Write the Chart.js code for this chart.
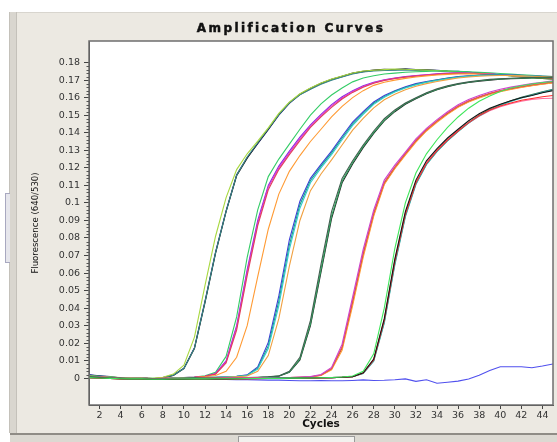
<!DOCTYPE html>
<html>
<head>
<meta charset="utf-8">
<script src="https://cdn.jsdelivr.net/npm/chart.js@4.4.1/dist/chart.umd.min.js"></script>
<style>
  html,body{margin:0;padding:0;background:#ffffff;}
  #wrap{position:relative;width:557px;height:442px;overflow:hidden;background:#ffffff;}
  #panel{position:absolute;left:10px;top:12px;width:547px;height:421px;background:#ece9e2;border-top:1px solid #d8d5ce;}
  #lstrip{position:absolute;left:9px;top:12px;width:6px;height:421px;background:#d9d6cf;border-left:1px solid #c4c1ba;border-right:1px solid #c4c1ba;}
  #ltab{position:absolute;left:5px;top:193px;width:4px;height:68px;background:#e6e6ec;border:1px solid #a8a8c0;border-right:none;}
  #bbar{position:absolute;left:10px;top:433px;width:547px;height:9px;background:#dcd9d2;border-top:2px solid #8f8c86;}
  #thumb{position:absolute;left:238px;top:436px;width:115px;height:6px;background:#f2f1ee;border:1px solid #9a9a9a;border-bottom:none;}
  #cv{position:absolute;left:0;top:0;}
</style>
</head>
<body>
<div id="wrap">
  <div id="panel"></div>
  <div id="lstrip"></div>
  <div id="ltab"></div>
  <div id="bbar"></div>
  <div id="thumb"></div>
  <canvas id="cv" width="557" height="442"></canvas>
</div>
<script>
// ---------- data ----------
const chartTitle = "Amplification Curves";
const xTitle = "Cycles";
const yTitle = "Fluorescence (640/530)";
const cycles = [1,2,3,4,5,6,7,8,9,10,11,12,13,14,15,16,17,18,19,20,21,22,23,24,25,26,27,28,29,30,31,32,33,34,35,36,37,38,39,40,41,42,43,44,45];
const xTicks = [2,4,6,8,10,12,14,16,18,20,22,24,26,28,30,32,34,36,38,40,42,44];
const yTicks = [0,0.01,0.02,0.03,0.04,0.05,0.06,0.07,0.08,0.09,0.1,0.11,0.12,0.13,0.14,0.15,0.16,0.17,0.18];

// group 1 (earliest)
const g1Navy   = [.0020,.0015,.0010,.0002,.0005,.0001,-.0003,.0004,.0019,.0058,.0175,.0440,.0720,.0955,.1160,.1258,.1338,.1418,.1500,.1568,.1618,.1650,.1680,.1702,.1720,.1738,.1748,.1755,.1758,.1760,.1765,.1760,.1759,.1756,.1752,.1750,.1745,.1741,.1736,.1731,.1726,.1721,.1716,.1712,.1708];
const g1Black  = [.0016,.0012,.0006,.0000,.0003,.0000,-.0004,.0002,.0016,.0055,.0170,.0432,.0712,.0950,.1155,.1255,.1340,.1420,.1505,.1572,.1620,.1653,.1682,.1705,.1722,.1740,.1750,.1757,.1762,.1760,.1762,.1758,.1757,.1754,.1750,.1748,.1744,.1740,.1735,.1730,.1725,.1720,.1716,.1710,.1705];
const g1YGreen = [.0014,.0010,.0008,.0004,.0002,.0001,.0000,.0006,.0024,.0075,.0235,.0530,.0810,.1030,.1190,.1280,.1352,.1428,.1510,.1575,.1622,.1655,.1684,.1706,.1724,.1741,.1752,.1756,.1760,.1763,.1762,.1759,.1757,.1755,.1751,.1747,.1743,.1739,.1734,.1729,.1724,.1719,.1714,.1710,.1706];
const g1Teal   = [.0018,.0013,.0009,.0003,.0004,.0002,-.0002,.0003,.0018,.0056,.0172,.0436,.0716,.0952,.1158,.1262,.1343,.1423,.1503,.1570,.1616,.1648,.1677,.1700,.1718,.1735,.1746,.1752,.1755,.1757,.1758,.1757,.1755,.1753,.1750,.1747,.1743,.1739,.1734,.1729,.1725,.1720,.1716,.1711,.1707];

// group 2
const g2Green   = [.0012,.0009,.0006,.0002,.0001,.0003,.0000,-.0002,.0002,.0004,.0008,.0014,.0035,.0125,.0350,.0690,.0960,.1150,.1250,.1335,.1420,.1500,.1565,.1615,.1655,.1690,.1712,.1725,.1735,.1740,.1745,.1748,.1750,.1752,.1752,.1750,.1748,.1745,.1742,.1738,.1734,.1730,.1727,.1723,.1720];
const g2Purple  = [.0010,.0008,.0005,.0001,.0000,.0002,-.0001,-.0001,.0001,.0003,.0006,.0012,.0028,.0100,.0300,.0620,.0900,.1100,.1210,.1295,.1375,.1445,.1505,.1560,.1605,.1640,.1668,.1688,.1702,.1712,.1720,.1726,.1731,.1736,.1740,.1741,.1740,.1738,.1735,.1732,.1728,.1725,.1721,.1718,.1714];
const g2Magenta = [.0011,.0008,.0004,.0000,.0001,.0002,-.0002,.0000,.0002,.0004,.0007,.0012,.0026,.0095,.0290,.0605,.0885,.1090,.1200,.1285,.1365,.1438,.1498,.1553,.1598,.1635,.1664,.1685,.1700,.1710,.1718,.1724,.1730,.1734,.1738,.1740,.1739,.1737,.1734,.1731,.1727,.1724,.1720,.1716,.1712];
const g2Red     = [.0009,.0007,.0004,.0001,.0000,.0001,-.0002,-.0001,.0001,.0003,.0006,.0011,.0024,.0088,.0275,.0585,.0870,.1075,.1190,.1275,.1355,.1430,.1490,.1545,.1592,.1630,.1660,.1682,.1698,.1709,.1717,.1723,.1728,.1733,.1737,.1739,.1738,.1736,.1733,.1730,.1726,.1723,.1719,.1715,.1711];
const g2Orange  = [.0010,.0007,.0005,.0001,.0001,.0002,-.0001,.0000,.0001,.0003,.0005,.0009,.0016,.0040,.0120,.0300,.0580,.0850,.1050,.1180,.1270,.1350,.1420,.1490,.1550,.1600,.1640,.1670,.1688,.1700,.1710,.1718,.1724,.1729,.1733,.1735,.1736,.1735,.1733,.1730,.1727,.1723,.1720,.1716,.1712];

// group 3
const g3Blue   = [.0008,.0006,.0003,.0000,-.0001,.0001,-.0002,-.0003,.0000,.0002,.0003,.0004,.0006,.0009,.0012,.0020,.0065,.0205,.0470,.0790,.1010,.1140,.1220,.1295,.1380,.1460,.1520,.1575,.1612,.1640,.1662,.1680,.1692,.1702,.1712,.1720,.1725,.1728,.1730,.1730,.1729,.1727,.1725,.1722,.1720];
const g3Teal   = [.0009,.0006,.0002,-.0001,.0000,.0001,-.0003,-.0002,.0001,.0002,.0004,.0005,.0006,.0008,.0011,.0018,.0058,.0185,.0440,.0760,.0990,.1128,.1210,.1285,.1370,.1450,.1512,.1568,.1606,.1636,.1658,.1676,.1689,.1700,.1710,.1718,.1723,.1727,.1729,.1729,.1728,.1726,.1724,.1721,.1719];
const g3Cyan   = [.0007,.0005,.0003,.0001,.0000,.0000,-.0002,-.0002,.0000,.0001,.0003,.0004,.0005,.0007,.0010,.0016,.0052,.0170,.0415,.0735,.0970,.1115,.1200,.1275,.1360,.1442,.1505,.1562,.1602,.1632,.1655,.1673,.1687,.1698,.1708,.1716,.1722,.1726,.1728,.1728,.1727,.1725,.1723,.1720,.1718];
const g3Orange = [.0008,.0005,.0002,.0000,.0000,.0001,-.0002,-.0002,.0000,.0001,.0002,.0003,.0004,.0006,.0009,.0013,.0040,.0130,.0340,.0640,.0900,.1070,.1165,.1245,.1330,.1415,.1482,.1542,.1588,.1620,.1645,.1665,.1680,.1692,.1703,.1712,.1718,.1722,.1725,.1726,.1726,.1724,.1722,.1720,.1718];

// group 4
const g4Slate = [.0006,.0004,.0002,.0000,-.0002,-.0001,-.0003,-.0004,-.0002,.0000,.0001,.0002,.0001,.0002,.0003,.0004,.0006,.0009,.0014,.0040,.0120,.0330,.0650,.0950,.1140,.1240,.1330,.1410,.1480,.1530,.1570,.1600,.1628,.1650,.1668,.1680,.1690,.1698,.1704,.1708,.1711,.1713,.1715,.1716,.1717];
const g4Green = [.0005,.0004,.0001,-.0001,-.0002,-.0002,-.0003,-.0003,-.0001,.0000,.0002,.0002,.0002,.0002,.0003,.0004,.0005,.0008,.0013,.0036,.0110,.0310,.0620,.0925,.1125,.1230,.1322,.1402,.1472,.1525,.1566,.1597,.1625,.1647,.1665,.1678,.1688,.1696,.1702,.1706,.1709,.1711,.1713,.1714,.1715];
const g4Black = [.0007,.0005,.0002,.0000,-.0001,-.0001,-.0004,-.0004,-.0002,-.0001,.0000,.0001,.0001,.0002,.0003,.0003,.0005,.0008,.0012,.0034,.0105,.0300,.0605,.0910,.1115,.1222,.1315,.1396,.1468,.1520,.1562,.1594,.1622,.1645,.1663,.1676,.1686,.1694,.1700,.1705,.1708,.1710,.1712,.1713,.1714];

// group 5
const g5Magenta = [.0005,.0003,.0001,-.0001,-.0001,-.0002,-.0003,-.0003,-.0002,-.0002,-.0001,.0000,.0000,.0001,.0001,.0002,.0002,.0003,.0004,.0005,.0007,.0010,.0022,.0062,.0195,.0465,.0735,.0960,.1130,.1215,.1290,.1365,.1425,.1475,.1520,.1560,.1590,.1612,.1632,.1648,.1660,.1670,.1680,.1688,.1696];
const g5Red     = [.0004,.0002,.0000,-.0002,-.0002,-.0003,-.0004,-.0004,-.0003,-.0003,-.0002,-.0001,-.0001,.0000,.0000,.0001,.0001,.0002,.0003,.0004,.0006,.0009,.0019,.0056,.0180,.0445,.0715,.0945,.1118,.1205,.1282,.1356,.1418,.1468,.1513,.1552,.1582,.1605,.1625,.1640,.1653,.1664,.1674,.1682,.1690];
const g5Orange  = [.0004,.0003,.0001,-.0001,-.0002,-.0003,-.0003,-.0004,-.0003,-.0002,-.0001,.0000,.0000,.0001,.0001,.0002,.0002,.0003,.0004,.0005,.0006,.0008,.0016,.0048,.0160,.0415,.0690,.0925,.1105,.1195,.1272,.1346,.1410,.1460,.1505,.1545,.1575,.1598,.1618,.1634,.1647,.1658,.1668,.1676,.1684];
const g5Brown   = [.0003,.0002,.0000,-.0002,-.0003,-.0003,-.0004,-.0005,-.0004,-.0003,-.0002,-.0002,-.0001,.0000,.0000,.0001,.0001,.0002,.0002,.0003,.0005,.0008,.0018,.0052,.0172,.0432,.0705,.0935,.1110,.1200,.1278,.1352,.1414,.1465,.1510,.1548,.1578,.1602,.1622,.1638,.1650,.1661,.1670,.1678,.1686];

// group 6 (latest)
const g6Green   = [.0004,.0002,.0000,-.0002,-.0003,-.0003,-.0005,-.0005,-.0004,-.0004,-.0003,-.0003,-.0002,-.0002,-.0002,-.0001,-.0001,.0000,.0000,.0001,.0001,.0002,.0003,.0005,.0008,.0013,.0040,.0140,.0400,.0740,.1000,.1170,.1280,.1360,.1430,.1490,.1540,.1580,.1610,.1635,.1655,.1668,.1678,.1686,.1692];
const g6Black   = [.0005,.0003,.0000,-.0002,-.0004,-.0004,-.0006,-.0006,-.0005,-.0005,-.0004,-.0004,-.0003,-.0003,-.0002,-.0002,-.0001,-.0001,.0000,.0000,.0001,.0002,.0003,.0004,.0006,.0010,.0032,.0110,.0340,.0680,.0950,.1130,.1240,.1310,.1370,.1420,.1468,.1508,.1540,.1562,.1582,.1600,.1612,.1628,.1640];
const g6Red     = [.0003,.0001,-.0001,-.0003,-.0004,-.0005,-.0006,-.0007,-.0006,-.0005,-.0005,-.0004,-.0004,-.0003,-.0003,-.0002,-.0002,-.0001,-.0001,.0000,.0000,.0001,.0002,.0004,.0006,.0009,.0030,.0105,.0330,.0665,.0935,.1115,.1225,.1298,.1358,.1410,.1458,.1498,.1530,.1552,.1570,.1585,.1595,.1605,.1612];
const g6Teal    = [.0004,.0002,.0000,-.0002,-.0003,-.0004,-.0005,-.0006,-.0005,-.0004,-.0004,-.0003,-.0003,-.0002,-.0002,-.0001,-.0001,.0000,.0000,.0001,.0001,.0002,.0003,.0004,.0006,.0009,.0028,.0098,.0315,.0645,.0920,.1105,.1218,.1292,.1354,.1406,.1455,.1496,.1530,.1556,.1578,.1598,.1614,.1630,.1645];
const g6Pink    = [.0003,.0002,.0000,-.0002,-.0004,-.0004,-.0005,-.0006,-.0006,-.0005,-.0004,-.0004,-.0003,-.0003,-.0002,-.0002,-.0001,-.0001,.0000,.0000,.0001,.0001,.0002,.0004,.0006,.0010,.0031,.0108,.0335,.0672,.0942,.1120,.1232,.1302,.1362,.1412,.1456,.1494,.1525,.1548,.1565,.1580,.1590,.1595,.1597];
const g6DkGreen = [.0005,.0003,.0001,-.0002,-.0003,-.0004,-.0005,-.0005,-.0005,-.0004,-.0004,-.0003,-.0003,-.0002,-.0002,-.0001,-.0001,.0000,.0000,.0000,.0001,.0002,.0003,.0004,.0006,.0009,.0029,.0102,.0322,.0655,.0928,.1110,.1222,.1295,.1356,.1408,.1458,.1500,.1535,.1560,.1582,.1602,.1618,.1634,.1648];

// negative control
const negBlue = [.0020,.0012,.0006,.0002,.0000,-.0002,-.0004,-.0002,-.0003,-.0004,-.0005,-.0006,-.0006,-.0007,-.0008,-.0008,-.0009,-.0010,-.0010,-.0012,-.0014,-.0014,-.0013,-.0014,-.0014,-.0012,-.0009,-.0012,-.0011,-.0008,-.0003,-.0017,-.0008,-.0028,-.0022,-.0016,-.0004,.0018,.0045,.0066,.0066,.0066,.0060,.0070,.0082];

const seriesList = [
  ["g6 green", g6Green, "#3ee65a"], ["g6 black", g6Black, "#151515"], ["g6 red", g6Red, "#ff2a2a"],
  ["g6 teal", g6Teal, "#2fb0b0"], ["g6 pink", g6Pink, "#ff6fa0"], ["g6 dark green", g6DkGreen, "#2f6b4f"],
  ["g5 magenta", g5Magenta, "#cc44cc"], ["g5 red", g5Red, "#e85050"], ["g5 orange", g5Orange, "#ff9a33"], ["g5 brown", g5Brown, "#a0522d"],
  ["g4 slate", g4Slate, "#3f5f4f"], ["g4 green", g4Green, "#30a860"], ["g4 black", g4Black, "#222222"],
  ["g3 orange", g3Orange, "#f0a040"], ["g3 cyan", g3Cyan, "#33cccc"], ["g3 teal", g3Teal, "#1a9a8a"], ["g3 blue", g3Blue, "#3b3bd9"],
  ["g2 orange", g2Orange, "#ff9a33"], ["g2 red", g2Red, "#e0405a"], ["g2 magenta", g2Magenta, "#dd33cc"], ["g2 purple", g2Purple, "#8a2be2"], ["g2 green", g2Green, "#33cc66"],
  ["g1 ygreen", g1YGreen, "#a8d840"], ["g1 teal", g1Teal, "#3a8a8a"], ["g1 black", g1Black, "#202020"], ["g1 navy", g1Navy, "#1c1c7a"],
  ["negative", negBlue, "#5050ee"]
];

// ---------- chart ----------
const tickFont = {family: "'DejaVu Sans', Verdana, sans-serif", size: 9.5};

const plotDeco = {
  id: 'plotDeco',
  beforeDraw(chart) {
    const a = chart.chartArea, ctx = chart.ctx;
    ctx.save();
    ctx.fillStyle = '#ffffff';
    ctx.fillRect(a.left, a.top, a.right - a.left, a.bottom - a.top);
    ctx.restore();
  },
  afterDraw(chart) {
    const a = chart.chartArea, ctx = chart.ctx;
    const ys = chart.scales.y;
    ctx.save();
    // frame
    ctx.strokeStyle = '#6e6e6e';
    ctx.lineWidth = 1.5;
    ctx.strokeRect(a.left, a.top, a.right - a.left, a.bottom - a.top);
    // minor ticks on y axis
    ctx.strokeStyle = '#555555';
    ctx.lineWidth = 1;
    ctx.beginPath();
    for (let i = 0; i < yTicks.length - 1; i++) {
      const lo = yTicks[i], hi = yTicks[i + 1];
      for (let k = 1; k < 5; k++) {
        const py = Math.round(ys.getPixelForValue(lo + (hi - lo) * k / 5)) + 0.5;
        ctx.moveTo(a.left - 2.5, py);
        ctx.lineTo(a.left, py);
      }
    }
    ctx.stroke();
    // title
    ctx.fillStyle = '#111111';
    ctx.strokeStyle = '#111111';
    ctx.lineWidth = 0.5;
    ctx.font = "bold 12px 'DejaVu Sans', Verdana, sans-serif";
    try { ctx.letterSpacing = '2.4px'; } catch (e) {}
    ctx.textAlign = 'center';
    ctx.textBaseline = 'middle';
    ctx.fillText(chartTitle, 291, 29);
    ctx.strokeText(chartTitle, 291, 29);
    ctx.restore();
  }
};

new Chart(document.getElementById('cv'), {
  type: 'line',
  data: {
    datasets: seriesList.map(([name, vals, col]) => ({
      label: name,
      data: cycles.map((c, i) => ({x: c, y: vals[i]})),
      borderColor: col,
      borderWidth: 1.1,
      pointRadius: 0,
      tension: 0,
      fill: false
    }))
  },
  options: {
    responsive: false,
    animation: false,
    events: [],
    layout: {padding: {left: 0, top: 41, right: 4, bottom: 0}},
    plugins: {legend: {display: false}, title: {display: false}, tooltip: {enabled: false}},
    scales: {
      x: {
        type: 'linear',
        min: 1, max: 45,
        afterBuildTicks: s => { s.ticks = xTicks.map(v => ({value: v})); },
        afterFit: s => { s.height = 37; },
        ticks: {font: tickFont, color: '#333333', padding: 1, autoSkip: false, maxRotation: 0, callback: v => String(v)},
        grid: {drawOnChartArea: false, drawTicks: true, tickLength: 4, color: '#444444'},
        border: {display: true, color: '#444444', width: 1},
        title: {display: true, text: xTitle, color: '#111111',
                font: {family: "'DejaVu Sans', Verdana, sans-serif", size: 10.5, weight: 'bold'},
                padding: {top: 0, bottom: 11}}
      },
      y: {
        type: 'linear',
        min: -0.0152, max: 0.1923,
        afterBuildTicks: s => { s.ticks = yTicks.map(v => ({value: v})); },
        afterFit: s => { s.width = 89; },
        ticks: {font: tickFont, color: '#333333', padding: 4, callback: v => String(Number(v.toFixed(2)))},
        grid: {drawOnChartArea: false, drawTicks: true, tickLength: 5, color: '#444444'},
        border: {display: true, color: '#444444', width: 1},
        title: {display: true, text: yTitle, color: '#111111',
                font: {family: "'Liberation Sans Narrow', 'DejaVu Sans Condensed', 'Liberation Sans', sans-serif", size: 9.5},
                padding: {top: 30, bottom: 0}}
      }
    }
  },
  plugins: [plotDeco]
});
</script>
</body>
</html>
